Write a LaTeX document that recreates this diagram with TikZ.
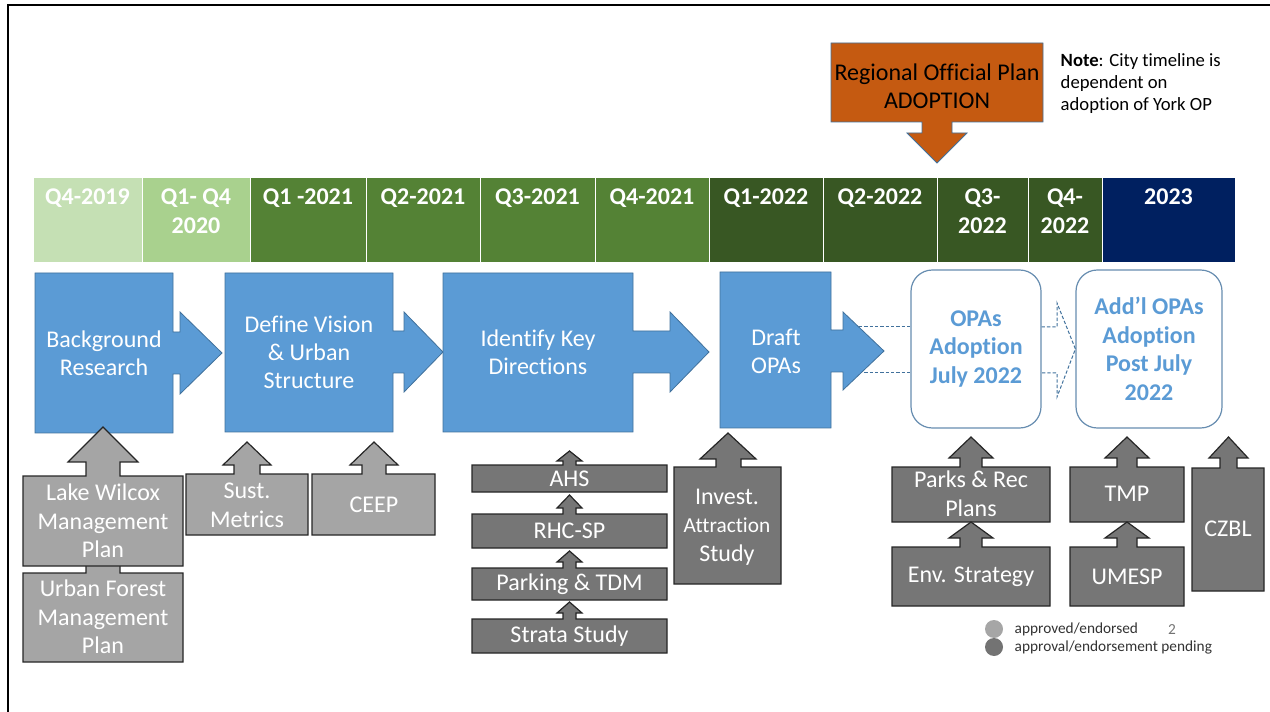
\documentclass[tikz,border=0pt]{standalone}
\usepackage{fontspec}
\setmainfont{Carlito}[Ligatures=NoCommon]
\usepackage{tikz}

\definecolor{qpale}{HTML}{C5E0B4}
\definecolor{qlight}{HTML}{A9D18E}
\definecolor{qgreen}{HTML}{548235}
\definecolor{qdark}{HTML}{385723}
\definecolor{qnavy}{HTML}{002060}
\definecolor{stageblue}{HTML}{5B9BD5}
\definecolor{stageline}{HTML}{41719C}
\definecolor{regorange}{HTML}{C55A11}
\definecolor{donegrey}{HTML}{A5A5A5}
\definecolor{pendgrey}{HTML}{767676}
\definecolor{greyline}{HTML}{262626}

\begin{document}
\begin{tikzpicture}[x=0.75pt, y=-0.75pt,
		cell/.style={draw=white, line width=0.75pt},
		celltext/.style={anchor=north, align=center, text=white, font=\fontsize{18}{21.5}\selectfont\bfseries},
		stage/.style={fill=stageblue, draw=stageline, line width=0.6pt},
		stagetext/.style={align=center, text=white, font=\fontsize{18}{21}\selectfont},
		adopt/.style={draw=stageline!80, line width=0.9pt, fill=white, rounded corners=16pt, align=center, text=stageblue, font=\fontsize{18}{21.5}\selectfont\bfseries},
		dashline/.style={draw=stageline, line width=0.75pt, dash pattern=on 2.5pt off 1.5pt},
		done/.style={fill=donegrey, draw=greyline, line width=0.9pt},
		pending/.style={fill=pendgrey, draw=greyline, line width=0.9pt},
		greytext/.style={align=center, text=white, font=\fontsize{18}{21.5}\selectfont},
		legendtext/.style={anchor=west, text=black!80, font=\fontsize{11.5}{13}\selectfont}]
		\useasboundingbox (0,0) rectangle (1270,712);
		\draw[line width=1.5pt] (8,712) -- (8,5) -- (1270,5);

		\draw[cell, fill=qpale] (33,178) rectangle (142,263);
		\draw[cell, fill=qlight] (142,178) rectangle (250,263);
		\draw[cell, fill=qgreen] (250,178) rectangle (366,263);
		\draw[cell, fill=qgreen] (366,178) rectangle (480,263);
		\draw[cell, fill=qgreen] (480,178) rectangle (595,263);
		\draw[cell, fill=qgreen] (595,178) rectangle (709,263);
		\draw[cell, fill=qdark] (709,178) rectangle (823,263);
		\draw[cell, fill=qdark] (823,178) rectangle (937,263);
		\draw[cell, fill=qdark] (937,178) rectangle (1028,263);
		\draw[cell, fill=qdark] (1028,178) rectangle (1102,263);
		\draw[cell, fill=qnavy] (1102,178) rectangle (1235,263);
		\node[celltext] (q19) at (87.5,184) {Q4-2019};
		\node[celltext] (q20) at (196,184) {Q1- Q4\\2020};
		\node[celltext] (q121) at (308,184) {Q1 -2021};
		\node[celltext] (q221) at (423,184) {Q2-2021};
		\node[celltext] (q321) at (537.5,184) {Q3-2021};
		\node[celltext] (q421) at (652,184) {Q4-2021};
		\node[celltext] (q122) at (766,184) {Q1-2022};
		\node[celltext] (q222) at (880,184) {Q2-2022};
		\node[celltext] (q322) at (982.5,184) {Q3-\\2022};
		\node[celltext] (q422) at (1065,184) {Q4-\\2022};
		\node[celltext] (q23) at (1168.5,184) {2023};

		\filldraw[fill=regorange, draw=stageline, line width=0.6pt] (831,43) -- (1043,43) -- (1043,122) -- (952,122) -- (952,133) -- (967,133) -- (937,163) -- (907,133) -- (922,133) -- (922,122) -- (831,122) -- cycle;
		\node[align=center, font=\fontsize{18}{21}\selectfont] (rop) at (937,86) {Regional Official Plan\\ADOPTION};
		\node[anchor=north west, align=left, font=\fontsize{14}{16.5}\selectfont] (note) at (1056,49) {\textbf{Note}: City timeline is\\dependent on\\adoption of York OP};

		\node[adopt, minimum width=97.5pt, minimum height=118.5pt] (opas) at (976,349) {OPAs\\Adoption\\July 2022};
		\node[adopt, minimum width=109.5pt, minimum height=118.5pt] (addl) at (1149,349) {Add’l OPAs\\Adoption\\Post July\\2022};
		\coordinate (dtop) at (843,327);
		\coordinate (dbot) at (843,373);
		\draw[dashline] (dtop) -- (dtop -| opas.west);
		\draw[dashline] (dbot) -- (dbot -| opas.west);
		\draw[dashline] (dtop -| opas.east) -- (1057,327) -- (1057,303) -- (addl.west) -- (1057,397) -- (1057,373) -- (dbot -| opas.east);

		\filldraw[stage] (35,273) -- (173,273) -- (173,332) -- (180,332) -- (180,312) -- (222,353) -- (180,394) -- (180,374) -- (173,374) -- (173,433) -- (35,433) -- cycle;
		\filldraw[stage] (225,273) -- (393,273) -- (393,331) -- (404,331) -- (404,312) -- (443,352) -- (404,392) -- (404,373) -- (393,373) -- (393,432) -- (225,432) -- cycle;
		\filldraw[stage] (443,273) -- (633,273) -- (633,331) -- (670,331) -- (670,312) -- (709,352) -- (670,392) -- (670,373) -- (633,373) -- (633,432) -- (443,432) -- cycle;
		\filldraw[stage] (720,272) -- (831,272) -- (831,330) -- (843,330) -- (843,312) -- (884,351) -- (843,390) -- (843,372) -- (831,372) -- (831,428) -- (720,428) -- cycle;
		\node[stagetext] (bgr) at (104,353) {Background\\Research};
		\node[stagetext] (vis) at (309,352) {Define Vision\\\& Urban\\Structure};
		\node[stagetext] (dir) at (538,352) {Identify Key\\Directions};
		\node[stagetext] (dra) at (776,351) {Draft\\OPAs};

		\filldraw[done] (23,573) -- (86,573) -- (86,540) -- (68,540) -- (103,505) -- (138,540) -- (120,540) -- (120,573) -- (183,573) -- (183,662) -- (23,662) -- cycle;
		\filldraw[done] (23,476) -- (86,476) -- (86,462) -- (68,462) -- (103,427) -- (138,462) -- (120,462) -- (120,476) -- (183,476) -- (183,566) -- (23,566) -- cycle;
		\filldraw[done] (186,474) -- (234,474) -- (234,465) -- (223,465) -- (247,442) -- (271,465) -- (260,465) -- (260,474) -- (308,474) -- (308,535) -- (186,535) -- cycle;
		\filldraw[done] (312,474) -- (362,474) -- (362,465) -- (350,465) -- (374,442) -- (398,465) -- (386,465) -- (386,474) -- (435,474) -- (435,535) -- (312,535) -- cycle;
		\node[greytext] (lwm) at (103,521) {Lake Wilcox\\Management\\Plan};
		\node[greytext] (ufm) at (103,617) {Urban Forest\\Management\\Plan};
		\node[greytext] (sus) at (247,505) {Sust.\\Metrics};
		\node[greytext] (cee) at (374,505) {CEEP};

		\filldraw[pending] (472,465) -- (563,465) -- (563,461) -- (557,461) -- (569.5,451) -- (582,461) -- (576,461) -- (576,465) -- (667,465) -- (667,492) -- (472,492) -- cycle;
		\filldraw[pending] (472,514) -- (563,514) -- (563,508) -- (557,508) -- (569.5,495) -- (582,508) -- (576,508) -- (576,514) -- (667,514) -- (667,548) -- (472,548) -- cycle;
		\filldraw[pending] (472,568) -- (563,568) -- (563,562) -- (557,562) -- (569.5,551) -- (582,562) -- (576,562) -- (576,568) -- (667,568) -- (667,600) -- (472,600) -- cycle;
		\filldraw[pending] (472,619) -- (563,619) -- (563,613) -- (557,613) -- (569.5,602) -- (582,613) -- (576,613) -- (576,619) -- (667,619) -- (667,653) -- (472,653) -- cycle;
		\node[greytext] (ahs) at (569.5,479) {AHS};
		\node[greytext] (rhc) at (569.5,531) {RHC-SP};
		\node[greytext] (tdm) at (569.5,584) {Parking \& TDM};
		\node[greytext] (str) at (569.5,636) {Strata Study};

		\filldraw[pending] (674,467) -- (716,467) -- (716,459) -- (700,459) -- (728,433) -- (756,459) -- (741,459) -- (741,467) -- (781,467) -- (781,584) -- (674,584) -- cycle;
		\node[greytext] (inv) at (727,527) {Invest.\\{\fontsize{16}{20}\selectfont Attraction}\\Study};

		\filldraw[pending] (892,467) -- (960,467) -- (960,458) -- (949,458) -- (971,437) -- (993,458) -- (982,458) -- (982,467) -- (1050,467) -- (1050,522) -- (892,522) -- cycle;
		\filldraw[pending] (892,547) -- (960,547) -- (960,538) -- (949,538) -- (971,522) -- (993,538) -- (982,538) -- (982,547) -- (1050,547) -- (1050,606) -- (892,606) -- cycle;
		\filldraw[pending] (1070,467) -- (1117,467) -- (1117,458) -- (1105,458) -- (1127,437) -- (1149,458) -- (1137,458) -- (1137,467) -- (1184,467) -- (1184,522) -- (1070,522) -- cycle;
		\filldraw[pending] (1070,547) -- (1117,547) -- (1117,538) -- (1105,538) -- (1127,522) -- (1149,538) -- (1137,538) -- (1137,547) -- (1184,547) -- (1184,606) -- (1070,606) -- cycle;
		\filldraw[pending] (1192,468) -- (1220,468) -- (1220,458) -- (1209,458) -- (1228.5,437) -- (1248,458) -- (1237,458) -- (1237,468) -- (1264,468) -- (1264,591) -- (1192,591) -- cycle;
		\node[greytext] (prk) at (971,494) {Parks \& Rec\\Plans};
		\node[greytext] (env) at (971,577) {Env. Strategy};
		\node[greytext] (tmp) at (1127,494) {TMP};
		\node[greytext] (ume) at (1127,577) {UMESP};
		\node[greytext] (czb) at (1228,529) {CZBL};

		\node[circle, fill=black!35, minimum size=13.5pt, inner sep=0pt] (ldone) at (994,629) {};
		\node[circle, fill=black!55, minimum size=13.5pt, inner sep=0pt] (lpend) at (994,647) {};
		\node[legendtext] (tdone) at (1010,629) {approved/endorsed};
		\node[legendtext] (tpend) at (1010,647) {approval/endorsement pending};
		\node[text=black!55, font=\fontsize{11.5}{13}\selectfont] (pnum) at (1172,630) {2};
		\end{tikzpicture}
\end{document}
